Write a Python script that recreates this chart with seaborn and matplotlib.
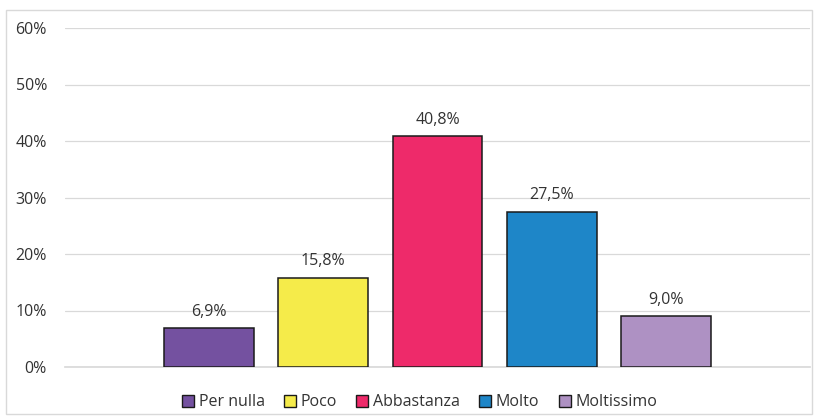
import matplotlib
matplotlib.use("Agg")
import matplotlib.pyplot as plt
import matplotlib.patches as mpatches
import seaborn as sns
import pandas as pd

categorie = ["Per nulla", "Poco", "Abbastanza", "Molto", "Moltissimo"]
valori = [6.9, 15.8, 40.8, 27.5, 9.0]
colori = ["#7451A0", "#F5EB4A", "#EE2A6A", "#1E86C8", "#AE91C3"]
tick_y = [0, 10, 20, 30, 40, 50, 60]

df = pd.DataFrame({"gruppo": ["x"] * len(categorie), "risposta": categorie, "pct": valori})

sns.set_theme(style="white")
plt.rcParams["font.family"] = ["Open Sans", "DejaVu Sans"]
testo = "#333333"

fig = plt.figure(figsize=(8.18, 4.16), dpi=100)
ax = fig.add_axes([65 / 818, 49 / 416, 745 / 818, 339 / 416])

sns.barplot(data=df, x="gruppo", y="pct", hue="risposta", hue_order=categorie,
            palette=colori, width=0.768, gap=0.214, edgecolor="#1a1a1a", linewidth=1.1,
            saturation=1, ax=ax, zorder=3)

for cont in ax.containers:
    ax.bar_label(cont, labels=[f"{v:.1f}%".replace(".", ",") for v in cont.datavalues],
                 padding=6, fontsize=11.5, color=testo)

ax.set_xlim(-0.5, 0.5)
ax.set_ylim(0, 60)
ax.set_yticks(tick_y)
ax.set_yticklabels([f"{t}%" for t in tick_y], fontsize=11.5, color=testo)
ax.set_xticks([])
ax.set_xlabel("")
ax.set_ylabel("")
ax.tick_params(axis="y", length=0, pad=13)
ax.yaxis.grid(True, color="#D9D9D9", linewidth=0.9, zorder=0)
ax.set_axisbelow(True)
for s in ["top", "right", "left"]:
    ax.spines[s].set_visible(False)
ax.spines["bottom"].set_color("#D9D9D9")

sns.move_legend(ax, "lower center", bbox_to_anchor=(0.476, -0.17), ncol=5, frameon=False,
                title=None, fontsize=11.5, handlelength=0.75, handleheight=0.75,
                handletextpad=0.3, columnspacing=1.2)
for h in ax.get_legend().legend_handles:
    h.set_edgecolor("#1a1a1a")
    h.set_linewidth(1.0)
for t in ax.get_legend().get_texts():
    t.set_color(testo)

fig.patches.append(mpatches.Rectangle((6 / 818, 2 / 416), 806 / 818, 404 / 416,
                                      transform=fig.transFigure, fill=False,
                                      edgecolor="#D9D9D9", linewidth=1.0))

fig.savefig("out.png", dpi=100)
